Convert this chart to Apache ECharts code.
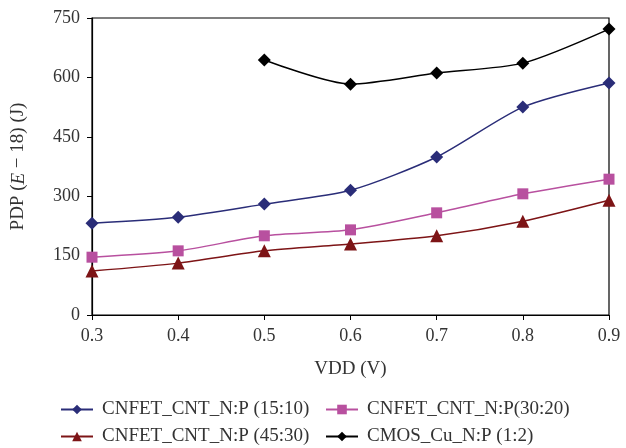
<!DOCTYPE html>
<html><head><meta charset="utf-8">
<script src="https://cdn.jsdelivr.net/npm/echarts@6/dist/echarts.min.js"></script>
<style>html,body{margin:0;padding:0;background:#fff}#c{width:626px;height:448px}</style>
</head><body><div id="c"></div>
<script>
const vdd = [0.3, 0.4, 0.5, 0.6, 0.7, 0.8, 0.9];
const s1510 = [232, 247, 280, 315, 399, 525, 586];
const s3020 = [146, 162, 200, 215, 258, 306, 343];
const s4530 = [111, 131, 162, 179, 200, 237, 290];
const cmos  = [null, null, 644, 583, 611, 636, 722];
const names = ['CNFET_CNT_N:P (15:10)', 'CNFET_CNT_N:P(30:20)', 'CNFET_CNT_N:P (45:30)', 'CMOS_Cu_N:P (1:2)'];
const yTicks = [0, 150, 300, 450, 600, 750];

const pair = arr => vdd.map((x, i) => [x, arr[i]]).filter(p => p[1] !== null);
const font = 'Liberation Serif';
const mk = (name, data, color, symbol, size) => ({
  name, type: 'line', data: pair(data), smooth: 0.25,
  symbol, symbolSize: size, showSymbol: true,
  lineStyle: { color, width: 1.5 }, itemStyle: { color },
  z: 3
});
const legendCommon = { orient: 'vertical', padding: 0, itemWidth: 32, itemHeight: 12, itemGap: 8, height: 60,
  textStyle: { fontFamily: font, fontSize: 19, color: '#333', padding: [0, 0, 0, 4] } };
const chart = echarts.init(document.getElementById('c'));
chart.setOption({
  animation: false,
  textStyle: { fontFamily: font },
  grid: { left: 92, right: 17, top: 18, bottom: 133, show: true, borderColor: '#000', borderWidth: 1.2, backgroundColor: 'transparent' },
  xAxis: {
    type: 'value', min: 0.3, max: 0.9, interval: 0.1,
    name: 'VDD (V)', nameLocation: 'middle', nameGap: 45,
    nameTextStyle: { fontFamily: font, fontSize: 19, color: '#333' },
    axisLine: { lineStyle: { color: '#000', width: 1.2 } },
    axisTick: { show: true, length: 5, lineStyle: { color: '#000' } },
    axisLabel: { fontFamily: font, fontSize: 18, color: '#333', margin: 12, formatter: v => v.toFixed(1) },
    splitLine: { show: false }
  },
  yAxis: {
    type: 'value', min: yTicks[0], max: yTicks[yTicks.length - 1], interval: 150,
    name: '{n|PDP (}{i|E}{n| − 18) (J)}', nameLocation: 'middle', nameGap: 64, nameRotate: 90,
    nameTextStyle: { rich: { n: { fontFamily: font, fontSize: 19, color: '#333' }, i: { fontFamily: font, fontSize: 19, fontStyle: 'italic', color: '#333' } } },
    axisLine: { show: true, lineStyle: { color: '#000', width: 1.2 } },
    axisTick: { show: true, length: 5, lineStyle: { color: '#000' } },
    axisLabel: { fontFamily: font, fontSize: 18, color: '#333', margin: 12 },
    splitLine: { show: false }
  },
  legend: [
    Object.assign({ data: [names[0], names[2]], left: 60, top: 400 }, legendCommon),
    Object.assign({ data: [names[1], names[3]], left: 325, top: 400 }, legendCommon)
  ],
  series: [
    mk(names[0], s1510, '#2a2d78', 'diamond', 13),
    mk(names[1], s3020, '#b8509f', 'rect', 11),
    mk(names[2], s4530, '#7d1416', 'triangle', 13),
    mk(names[3], cmos, '#000000', 'diamond', 13)
  ]
});
</script></body></html>
